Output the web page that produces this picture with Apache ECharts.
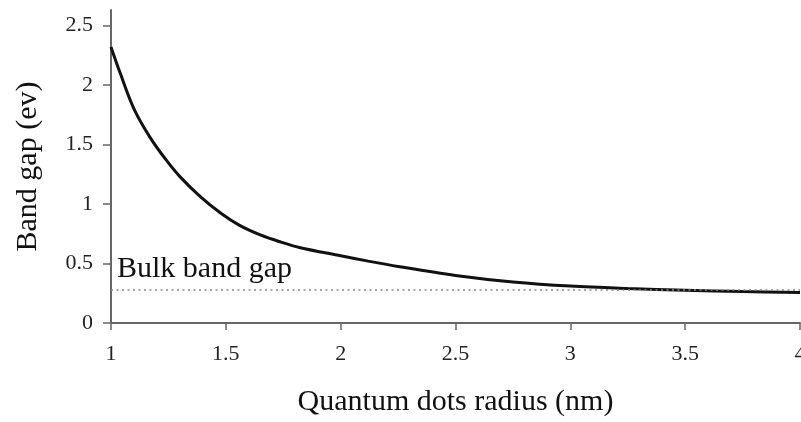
<!DOCTYPE html>
<html>
<head>
<meta charset="utf-8">
<script src="https://cdn.jsdelivr.net/npm/echarts@6/dist/echarts.min.js"></script>
<style>
  html, body { margin: 0; padding: 0; background: #fff; }
  #chart { width: 801px; height: 422px; }
</style>
</head>
<body>
<div id="chart"></div>
<script>
// values
const radius = [1.0, 1.04, 1.1, 1.17, 1.24, 1.3, 1.39, 1.48, 1.56, 1.65, 1.74, 1.82, 2.0, 2.12, 2.25, 2.5, 2.75, 3.0, 3.25, 3.5, 3.75, 4.0]
const bandGap = [2.32, 2.10, 1.80, 1.56, 1.37, 1.23, 1.06, 0.92, 0.82, 0.74, 0.68, 0.635, 0.565, 0.52, 0.475, 0.40, 0.345, 0.31, 0.29, 0.276, 0.264, 0.256]
const bulkGap = 0.275
const yTicks = [0, 0.5, 1, 1.5, 2, 2.5]

const chart = echarts.init(document.getElementById('chart'))
const serif = 'Liberation Serif'

chart.setOption({
  animation: false,
  grid: { left: 111, right: 1, top: 10, bottom: 99, containLabel: false, outerBoundsMode: 'none' },
  xAxis: {
    type: 'value',
    min: 1,
    max: 4,
    interval: 0.5,
    name: 'Quantum dots radius (nm)',
    nameLocation: 'middle',
    nameGap: 64,
    nameTextStyle: { fontFamily: serif, fontSize: 30, color: '#111' },
    axisLine: { lineStyle: { color: '#666', width: 2 } },
    axisTick: { show: true, length: 7, inside: false, lineStyle: { color: '#666', width: 1.5 } },
    axisLabel: { fontFamily: serif, fontSize: 22, color: '#222', margin: 20, hideOverlap: false },
    splitLine: { show: false }
  },
  yAxis: {
    type: 'value',
    min: 0,
    max: 2.63,
    name: 'Band gap (ev)',
    nameLocation: 'middle',
    nameGap: 68,
    nameTextStyle: { fontFamily: serif, fontSize: 30, color: '#111' },
    axisLine: { show: true, lineStyle: { color: '#666', width: 2 } },
    axisTick: { show: true, length: 8, customValues: yTicks, lineStyle: { color: '#666', width: 1.5 } },
    axisLabel: { fontFamily: serif, fontSize: 22, color: '#222', margin: 18, customValues: yTicks },
    splitLine: { show: false }
  },
  series: [
    {
      type: 'line',
      data: radius.map((r, i) => [r, bandGap[i]]),
      smooth: 0.35,
      showSymbol: false,
      lineStyle: { color: '#111', width: 3 },
      markLine: {
        silent: true,
        symbol: 'none',
        lineStyle: { color: '#888', width: 1.5, type: [2, 3.5] },
        label: {
          show: true,
          position: 'insideStartTop',
          formatter: 'Bulk band gap',
          fontFamily: serif,
          fontSize: 30,
          color: '#111',
          distance: [6, 6]
        },
        data: [{ yAxis: bulkGap }]
      }
    }
  ]
})
</script>
</body>
</html>
